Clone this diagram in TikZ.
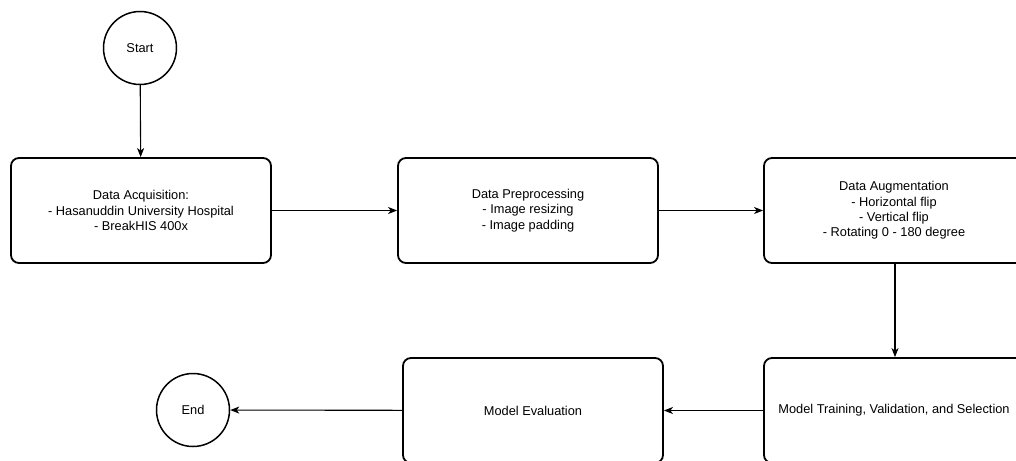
\documentclass[tikz,border=0pt]{standalone}
\usepackage{fontspec}
\setmainfont{Liberation Sans}
\usetikzlibrary{arrows.meta}
\begin{document}
\begin{tikzpicture}[x=1pt,y=-1pt,
  font=\fontsize{12.8}{15.4}\selectfont,
  procbox/.style={draw, line width=1.8pt, rounded corners=8pt, minimum width=260pt, minimum height=105pt, align=center, inner sep=0pt},
  term/.style={draw, circle, line width=1.5pt, minimum size=73pt, inner sep=0pt},
  conn/.style={line width=1.1pt, -{Stealth[length=9pt,width=7pt,inset=2.5pt]}}]
\useasboundingbox (0,0) rectangle (1016,460);
\clip (0,0) rectangle (1016,460);
\fill[white] (0,0) rectangle (1016,460);
\node[term] (start) at (140,48) {Start};
\node[procbox] (acq) at (141,210.5) {Data Acquisition:\\- Hasanuddin University Hospital\\- BreakHIS 400x};
\node[procbox] (pre) at (528,210.5) {Data Preprocessing\\- Image resizing\\- Image padding};
\node[procbox] (aug) at (894,210.5) {Data Augmentation\\- Horizontal flip\\- Vertical flip\\- Rotating 0 - 180 degree};
\node[procbox] (train) at (894,410.5) {Model Training, Validation, and Selection};
\node[procbox] (eval) at (533,410.5) {Model Evaluation};
\node[term] (end) at (193,410) {End};
\draw[conn] (start) -- (acq);
\draw[conn] (acq) -- (pre);
\draw[conn] (pre) -- (aug);
\draw[conn] (aug.south -| 895,0) -- (train.north -| 895,0);
\draw[conn] (train) -- (eval);
\draw[conn] (eval) -- (end);
\end{tikzpicture}
\end{document}
